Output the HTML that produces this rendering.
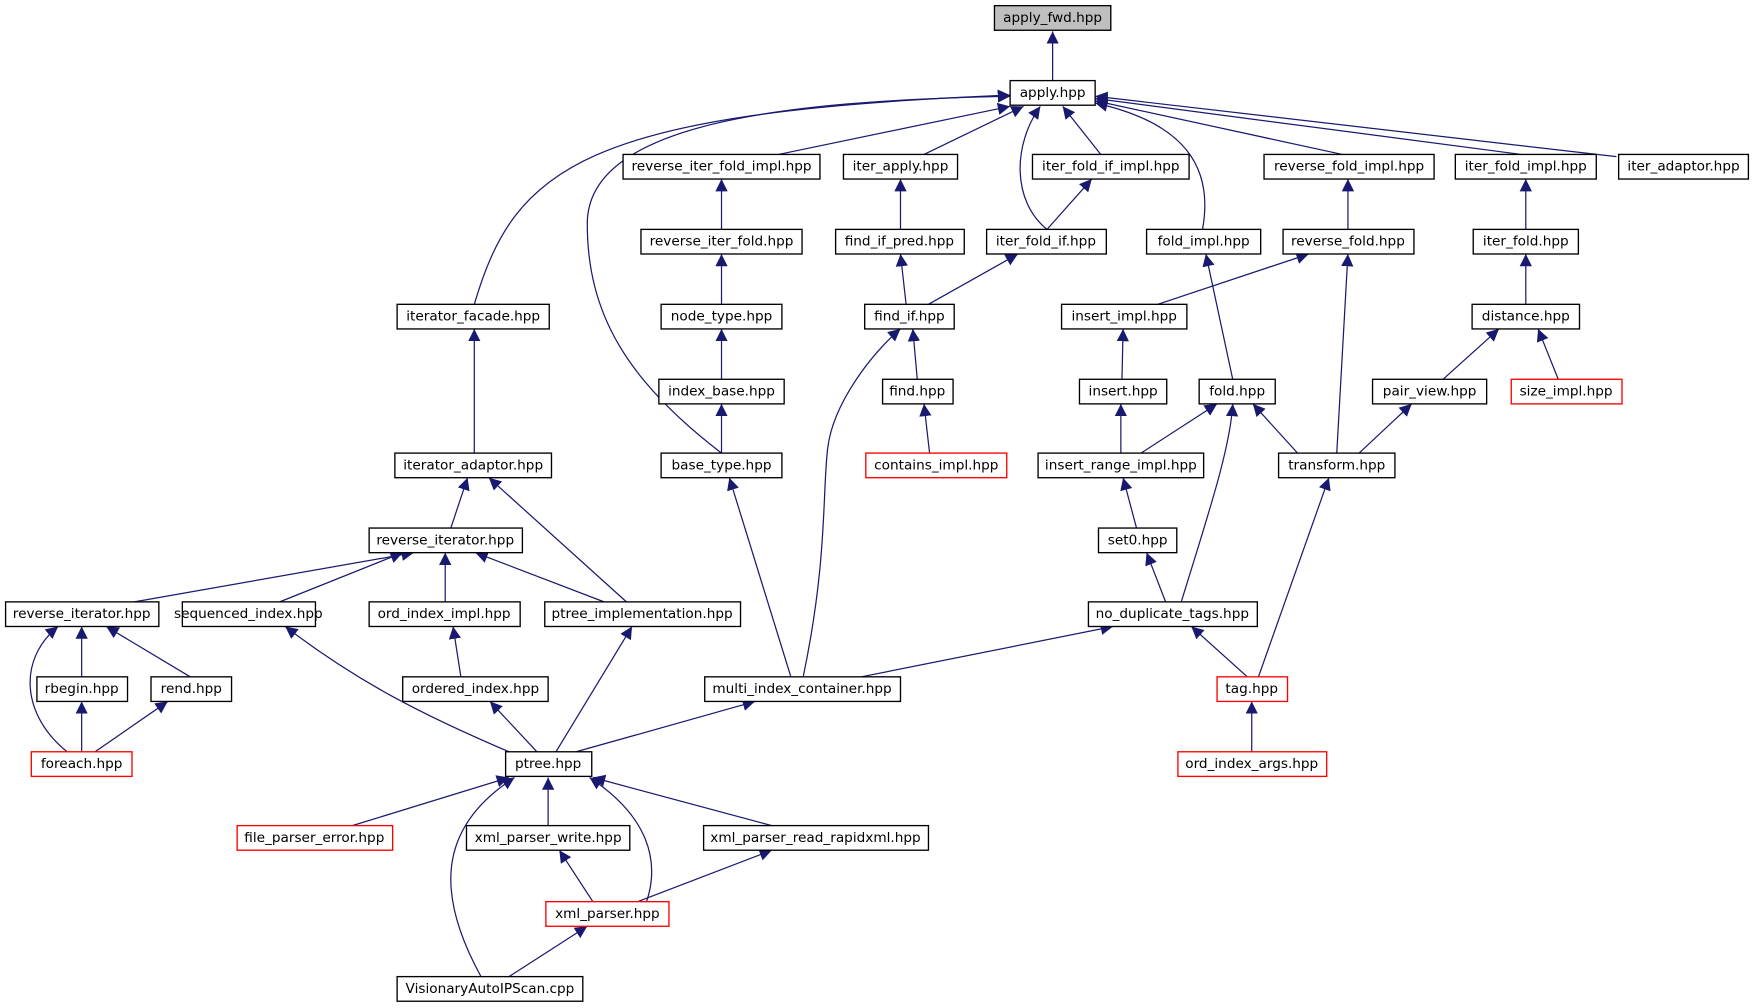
<!DOCTYPE html>
<html><head><meta charset="utf-8"><style>
html,body{margin:0;padding:0;background:#fff;}
svg{display:block}
text{font-family:"DejaVu Sans","Liberation Sans",sans-serif;font-size:12.2px;fill:#000;text-anchor:middle;dominant-baseline:central}
.b{fill:#fff;stroke:#000;stroke-width:1.2}
.r{fill:#fff;stroke:#ff0000;stroke-width:1.2}
.e{fill:none;stroke:#191970;stroke-width:1.1;marker-end:url(#a)}
</style></head><body>
<svg width="1754" height="1008" viewBox="0 0 1568 901" xmlns="http://www.w3.org/2000/svg">
<defs><marker id="a" viewBox="0 0 10 10" refX="10" refY="5" markerWidth="11" markerHeight="11" markerUnits="userSpaceOnUse" orient="auto"><path d="M0,0 L10,5 L0,10 z" fill="#191970"/></marker></defs>
<g>
<path class="e" d="M941,72 L941,28"/>
<path class="e" d="M424,272 C460,150 520,100 903,85"/>
<path class="e" d="M645,405 C560,340 525,280 525,200 C525,110 700,90 903,86"/>
<path class="e" d="M696,138 L903,95"/>
<path class="e" d="M826,138 L915,95"/>
<path class="e" d="M936,205 C905,180 905,130 930,95"/>
<path class="e" d="M984,138 L950,95"/>
<path class="e" d="M1075,205 C1085,150 1060,110 979,92"/>
<path class="e" d="M1200,138 L979,90"/>
<path class="e" d="M1360,138 L979,88"/>
<path class="e" d="M1445,140 L979,86"/>
<path class="e" d="M645,205 L645,160"/>
<path class="e" d="M645,272 L645,227"/>
<path class="e" d="M645,339 L645,294"/>
<path class="e" d="M645,405 L645,361"/>
<path class="e" d="M805,205 L805,160"/>
<path class="e" d="M810,272 L805,227"/>
<path class="e" d="M830,272 L910,227"/>
<path class="e" d="M936,205 L976,160"/>
<path class="e" d="M820,339 L816,294"/>
<path class="e" d="M831,405 L826,361"/>
<path class="e" d="M718,605 C740,500 735,440 740,400 C745,360 780,315 805,294"/>
<path class="e" d="M1035,272 L1170,227"/>
<path class="e" d="M1195,405 L1205,227"/>
<path class="e" d="M1102,339 L1078,227"/>
<path class="e" d="M1205,205 L1205,160"/>
<path class="e" d="M1364,205 L1364,160"/>
<path class="e" d="M1364,272 L1364,227"/>
<path class="e" d="M1290,339 L1340,294"/>
<path class="e" d="M1393,339 L1375,294"/>
<path class="e" d="M1003,339 L1004,294"/>
<path class="e" d="M1020,405 L1088,361"/>
<path class="e" d="M1002,405 L1002,361"/>
<path class="e" d="M1160,405 L1120,361"/>
<path class="e" d="M1215,405 L1262,361"/>
<path class="e" d="M1016,472 L1004,427"/>
<path class="e" d="M1042,538 L1025,494"/>
<path class="e" d="M1056,538 C1080,460 1100,400 1102,361"/>
<path class="e" d="M1115,605 L1065,560"/>
<path class="e" d="M1125,605 L1188,427"/>
<path class="e" d="M770,605 L995,560"/>
<path class="e" d="M707,605 L652,427"/>
<path class="e" d="M1119,672 L1119,627"/>
<path class="e" d="M424,405 L424,294"/>
<path class="e" d="M403,472 L418,427"/>
<path class="e" d="M560,538 L437,427"/>
<path class="e" d="M120,538 L370,494"/>
<path class="e" d="M250,538 L360,494"/>
<path class="e" d="M398,538 L398,494"/>
<path class="e" d="M540,538 L425,494"/>
<path class="e" d="M73,605 L73,560"/>
<path class="e" d="M170,605 L95,560"/>
<path class="e" d="M60,672 C20,640 15,590 52,560"/>
<path class="e" d="M73,672 L73,627"/>
<path class="e" d="M85,672 L150,627"/>
<path class="e" d="M412,605 L405,560"/>
<path class="e" d="M480,672 L438,627"/>
<path class="e" d="M455,672 C380,640 320,610 255,560"/>
<path class="e" d="M497,672 L565,560"/>
<path class="e" d="M515,672 L675,627"/>
<path class="e" d="M315,738 L455,695"/>
<path class="e" d="M490,738 L490,695"/>
<path class="e" d="M690,738 L530,695"/>
<path class="e" d="M530,806 L500,760"/>
<path class="e" d="M570,806 L690,760"/>
<path class="e" d="M578,806 C590,770 580,730 527,695"/>
<path class="e" d="M430,873 C390,800 390,740 460,695"/>
<path class="e" d="M455,873 L525,828"/>
</g>
<g>
<rect x="889" y="5" width="104" height="22" fill="#bfbfbf" stroke="#000" stroke-width="1.2"/><text x="941" y="16">apply_fwd.hpp</text>
<rect class="b" x="903" y="72" width="76" height="22"/><text x="941" y="83">apply.hpp</text>
<rect class="b" x="557" y="138" width="176" height="22"/><text x="645" y="149">reverse_iter_fold_impl.hpp</text>
<rect class="b" x="754" y="138" width="102" height="22"/><text x="805" y="149">iter_apply.hpp</text>
<rect class="b" x="923" y="138" width="140" height="22"/><text x="993" y="149">iter_fold_if_impl.hpp</text>
<rect class="b" x="1130" y="138" width="152" height="22"/><text x="1206" y="149">reverse_fold_impl.hpp</text>
<rect class="b" x="1301" y="138" width="126" height="22"/><text x="1364" y="149">iter_fold_impl.hpp</text>
<rect class="b" x="1447" y="138" width="116" height="22"/><text x="1505" y="149">iter_adaptor.hpp</text>
<rect class="b" x="573" y="205" width="144" height="22"/><text x="645" y="216">reverse_iter_fold.hpp</text>
<rect class="b" x="747" y="205" width="115" height="22"/><text x="804" y="216">find_if_pred.hpp</text>
<rect class="b" x="882" y="205" width="107" height="22"/><text x="935" y="216">iter_fold_if.hpp</text>
<rect class="b" x="1025" y="205" width="102" height="22"/><text x="1076" y="216">fold_impl.hpp</text>
<rect class="b" x="1147" y="205" width="117" height="22"/><text x="1205" y="216">reverse_fold.hpp</text>
<rect class="b" x="1317" y="205" width="94" height="22"/><text x="1364" y="216">iter_fold.hpp</text>
<rect class="b" x="355" y="272" width="136" height="22"/><text x="423" y="283">iterator_facade.hpp</text>
<rect class="b" x="591" y="272" width="108" height="22"/><text x="645" y="283">node_type.hpp</text>
<rect class="b" x="773" y="272" width="80" height="22"/><text x="813" y="283">find_if.hpp</text>
<rect class="b" x="949" y="272" width="112" height="22"/><text x="1005" y="283">insert_impl.hpp</text>
<rect class="b" x="1316" y="272" width="96" height="22"/><text x="1364" y="283">distance.hpp</text>
<rect class="b" x="589" y="339" width="112" height="22"/><text x="645" y="350">index_base.hpp</text>
<rect class="b" x="789" y="339" width="63" height="22"/><text x="820" y="350">find.hpp</text>
<rect class="b" x="965" y="339" width="78" height="22"/><text x="1004" y="350">insert.hpp</text>
<rect class="b" x="1072" y="339" width="68" height="22"/><text x="1106" y="350">fold.hpp</text>
<rect class="b" x="1227" y="339" width="102" height="22"/><text x="1278" y="350">pair_view.hpp</text>
<rect class="r" x="1351" y="339" width="99" height="22"/><text x="1400" y="350">size_impl.hpp</text>
<rect class="b" x="353" y="405" width="140" height="22"/><text x="423" y="416">iterator_adaptor.hpp</text>
<rect class="b" x="591" y="405" width="108" height="22"/><text x="645" y="416">base_type.hpp</text>
<rect class="r" x="774" y="405" width="126" height="22"/><text x="837" y="416">contains_impl.hpp</text>
<rect class="b" x="928" y="405" width="148" height="22"/><text x="1002" y="416">insert_range_impl.hpp</text>
<rect class="b" x="1143" y="405" width="104" height="22"/><text x="1195" y="416">transform.hpp</text>
<rect class="b" x="330" y="472" width="137" height="22"/><text x="398" y="483">reverse_iterator.hpp</text>
<rect class="b" x="982" y="472" width="70" height="22"/><text x="1017" y="483">set0.hpp</text>
<rect class="b" x="5" y="538" width="137" height="22"/><text x="73" y="549">reverse_iterator.hpp</text>
<rect class="b" x="163" y="538" width="119" height="22"/><text x="222" y="549">sequenced_index.hpp</text>
<rect class="b" x="330" y="538" width="135" height="22"/><text x="397" y="549">ord_index_impl.hpp</text>
<rect class="b" x="487" y="538" width="175" height="22"/><text x="574" y="549">ptree_implementation.hpp</text>
<rect class="b" x="973" y="538" width="151" height="22"/><text x="1048" y="549">no_duplicate_tags.hpp</text>
<rect class="b" x="33" y="605" width="81" height="22"/><text x="73" y="616">rbegin.hpp</text>
<rect class="b" x="135" y="605" width="72" height="22"/><text x="171" y="616">rend.hpp</text>
<rect class="b" x="360" y="605" width="130" height="22"/><text x="425" y="616">ordered_index.hpp</text>
<rect class="b" x="630" y="605" width="175" height="22"/><text x="717" y="616">multi_index_container.hpp</text>
<rect class="r" x="1088" y="605" width="63" height="22"/><text x="1119" y="616">tag.hpp</text>
<rect class="r" x="28" y="672" width="90" height="22"/><text x="73" y="683">foreach.hpp</text>
<rect class="b" x="452" y="672" width="77" height="22"/><text x="490" y="683">ptree.hpp</text>
<rect class="r" x="1053" y="672" width="133" height="22"/><text x="1119" y="683">ord_index_args.hpp</text>
<rect class="r" x="212" y="738" width="139" height="22"/><text x="281" y="749">file_parser_error.hpp</text>
<rect class="b" x="417" y="738" width="146" height="22"/><text x="490" y="749">xml_parser_write.hpp</text>
<rect class="b" x="629" y="738" width="201" height="22"/><text x="729" y="749">xml_parser_read_rapidxml.hpp</text>
<rect class="r" x="488" y="806" width="110" height="22"/><text x="543" y="817">xml_parser.hpp</text>
<rect class="b" x="355" y="873" width="166" height="22"/><text x="438" y="884">VisionaryAutoIPScan.cpp</text>
</g>
</svg>
</body></html>
